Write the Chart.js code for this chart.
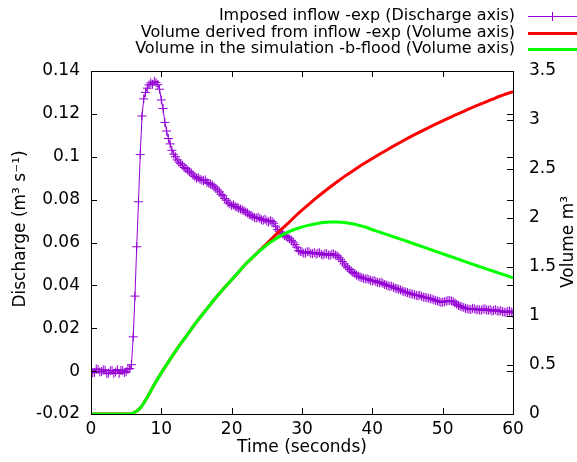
<!DOCTYPE html>
<html>
<head>
<meta charset="utf-8">
<script src="https://cdn.jsdelivr.net/npm/chart.js@4/dist/chart.umd.min.js"></script>
<style>
html,body{margin:0;padding:0;background:#fff}
</style>
</head>
<body>
<canvas id="graf" width="577" height="462"></canvas>
<script>
// inflow sampled every 0.25 s, volumes every 1 s
const dtQ = 0.25;
const discharge = [
0.0004,-0.0008,-0.0006,0.0010,0.0008,-0.0004,-0.0002,0.0006,
0.0005,-0.0012,-0.0009,0.0002,0.0003,-0.0010,-0.0004,0.0007,
-0.0011,0.0003,0.0002,-0.0007,-0.0003,0.0009,0.0012,0.0030,
0.0160,0.0350,0.0580,0.0790,0.1010,0.1190,0.1270,0.1300,
0.1320,0.1335,0.1345,0.1338,0.1352,0.1346,0.1336,0.1315,
0.1265,0.1225,0.1160,0.1120,0.1085,0.1060,0.1030,0.1012,
0.1000,0.0985,0.0975,0.0968,0.0960,0.0950,0.0945,0.0938,
0.0930,0.0924,0.0915,0.0908,0.0900,0.0902,0.0895,0.0891,
0.0888,0.0892,0.0880,0.0876,0.0872,0.0868,0.0860,0.0853,
0.0845,0.0836,0.0825,0.0818,0.0805,0.0797,0.0785,0.0780,
0.0772,0.0776,0.0768,0.0764,0.0760,0.0756,0.0752,0.0748,
0.0742,0.0738,0.0730,0.0727,0.0722,0.0716,0.0714,0.0718,
0.0712,0.0706,0.0704,0.0708,0.0700,0.0696,0.0702,0.0698,
0.0690,0.0676,0.0660,0.0652,0.0645,0.0640,0.0632,0.0628,
0.0622,0.0617,0.0610,0.0602,0.0590,0.0578,0.0562,0.0558,
0.0556,0.0550,0.0551,0.0557,0.0556,0.0549,0.0548,0.0553,
0.0546,0.0550,0.0552,0.0545,0.0541,0.0548,0.0547,0.0542,
0.0540,0.0547,0.0546,0.0541,0.0538,0.0531,0.0522,0.0511,
0.0500,0.0490,0.0482,0.0474,0.0466,0.0460,0.0455,0.0448,
0.0443,0.0440,0.0436,0.0433,0.0430,0.0431,0.0427,0.0423,
0.0420,0.0423,0.0418,0.0414,0.0412,0.0415,0.0409,0.0404,
0.0401,0.0398,0.0395,0.0397,0.0391,0.0387,0.0385,0.0382,
0.0379,0.0374,0.0371,0.0369,0.0366,0.0363,0.0360,0.0359,
0.0356,0.0353,0.0351,0.0354,0.0349,0.0345,0.0344,0.0342,
0.0340,0.0338,0.0336,0.0332,0.0330,0.0327,0.0325,0.0321,
0.0321,0.0324,0.0326,0.0329,0.0330,0.0327,0.0324,0.0318,
0.0312,0.0306,0.0302,0.0300,0.0296,0.0293,0.0291,0.0289,
0.0287,0.0293,0.0291,0.0286,0.0288,0.0285,0.0284,0.0289,
0.0290,0.0285,0.0284,0.0287,0.0280,0.0283,0.0286,0.0281,
0.0279,0.0282,0.0277,0.0275,0.0274,0.0279,0.0280,0.0276,
0.0271
];
const volTimes = [
0,1,2,3,4,5,6,7,8,9,10,11,12,13,14,15,16,17,18,19,20,
21,22,23,24,25,26,27,28,29,30,31,32,33,34,35,36,37,38,39,40,
41,42,43,44,45,46,47,48,49,50,51,52,53,54,55,56,57,58,59,60
];
const volDerived = [
0,0,0,0,0,0,0.01,0.06,0.17,0.30,0.42,0.53,0.64,0.74,0.84,0.94,1.03,1.12,1.21,1.29,1.37,
1.45,1.53,1.60,1.67,1.74,1.81,1.88,1.945,2.015,2.08,2.142,2.202,2.26,2.316,2.37,2.422,2.47,2.517,2.563,2.607,
2.65,2.692,2.733,2.773,2.812,2.85,2.887,2.923,2.958,2.992,3.025,3.057,3.089,3.12,3.151,3.181,3.21,3.24,3.265,3.29
];
const volSim = [
0,0,0,0,0,0,0.01,0.06,0.17,0.30,0.42,0.53,0.64,0.74,0.84,0.94,1.03,1.12,1.21,1.29,1.37,
1.45,1.53,1.60,1.665,1.725,1.775,1.82,1.855,1.885,1.908,1.927,1.942,1.953,1.959,1.96,1.955,1.943,1.927,1.908,1.88,
1.857,1.833,1.809,1.785,1.76,1.735,1.71,1.685,1.66,1.635,1.61,1.585,1.56,1.535,1.51,1.486,1.462,1.438,1.414,1.39
];
const xTicks = [0,10,20,30,40,50,60];
const yTicks = [-0.02,0,0.02,0.04,0.06,0.08,0.1,0.12,0.14];
const y2Ticks = [0,0.5,1,1.5,2,2.5,3,3.5];

const fonte = "DejaVu Sans";

const ptsQ = discharge.map((q,i)=>({x:i*dtQ,y:q}));
const ptsD = volTimes.map((t,i)=>({x:t,y:volDerived[i]}));
const ptsS = volTimes.map((t,i)=>({x:t,y:volSim[i]}));

// gnuplot style frame, inward tics, key and y titles
const moldura = {
  id:"moldura",
  afterDraw(chart){
    const ctx = chart.ctx;
    const a = chart.chartArea;
    const sx = chart.scales.x, sy = chart.scales.y, sy2 = chart.scales.y2;
    ctx.save();
    ctx.strokeStyle = "#000";
    ctx.lineWidth = 1;
    ctx.strokeRect(a.left+0.5, a.top+0.5, a.right-a.left, a.bottom-a.top);
    ctx.beginPath();
    const tl = 6;
    sx.ticks.forEach(t=>{
      const p = Math.round(sx.getPixelForValue(t.value))+0.5;
      ctx.moveTo(p,a.bottom); ctx.lineTo(p,a.bottom-tl);
      ctx.moveTo(p,a.top); ctx.lineTo(p,a.top+tl);
    });
    sy.ticks.forEach(t=>{
      const p = Math.round(sy.getPixelForValue(t.value))+0.5;
      ctx.moveTo(a.left,p); ctx.lineTo(a.left+tl,p);
      ctx.moveTo(a.right,p); ctx.lineTo(a.right-tl,p);
    });
    sy2.ticks.forEach(t=>{
      const p = Math.round(sy2.getPixelForValue(t.value))+0.5;
      ctx.moveTo(a.right,p); ctx.lineTo(a.right-tl,p);
    });
    ctx.stroke();

    // key
    ctx.font = "16px '"+fonte+"'";
    ctx.textAlign = "right";
    ctx.textBaseline = "middle";
    const rows = [16,33,49];
    chart.data.datasets.forEach((ds,i)=>{
      const y = rows[i];
      ctx.fillStyle = "#000";
      ctx.fillText(ds.label, 515, y);
      ctx.strokeStyle = ds.borderColor;
      ctx.lineWidth = ds.borderWidth;
      ctx.beginPath();
      ctx.moveTo(528,y+0.5); ctx.lineTo(577,y+0.5);
      if(ds.pointStyle==="cross"){
        ctx.moveTo(552.5,y-4); ctx.lineTo(552.5,y+5);
      }
      ctx.stroke();
    });

    // y titles
    ctx.fillStyle = "#000";
    ctx.font = "17px '"+fonte+"'";
    ctx.textAlign = "center";
    ctx.textBaseline = "middle";
    ctx.save();
    ctx.translate(21,229);
    ctx.rotate(-Math.PI/2);
    ctx.fillText("Discharge (m³ s⁻¹)",0,0);
    ctx.restore();
    ctx.save();
    ctx.translate(569,242);
    ctx.rotate(-Math.PI/2);
    ctx.fillText("Volume m³",0,0);
    ctx.restore();
    ctx.restore();
  }
};

new Chart(document.getElementById("graf"),{
  type:"line",
  data:{
    datasets:[
      {
        label:"Imposed inflow -exp (Discharge axis)",
        data:ptsQ,
        yAxisID:"y",
        borderColor:"#9400d3",
        backgroundColor:"#9400d3",
        borderWidth:1,
        pointStyle:"cross",
        pointRadius:4.5,
        pointBorderWidth:1,
        tension:0,
        order:3
      },
      {
        label:"Volume derived from inflow -exp (Volume axis)",
        data:ptsD,
        yAxisID:"y2",
        borderColor:"#ff0000",
        borderWidth:3,
        pointRadius:0,
        cubicInterpolationMode:"monotone",
        order:2
      },
      {
        label:"Volume in the simulation -b-flood (Volume axis)",
        data:ptsS,
        yAxisID:"y2",
        borderColor:"#00ff00",
        borderWidth:3,
        pointRadius:0,
        cubicInterpolationMode:"monotone",
        order:1
      }
    ]
  },
  options:{
    responsive:false,
    animation:false,
    devicePixelRatio:1,
    layout:{padding:{top:71,left:0,right:0,bottom:0}},
    plugins:{
      legend:{display:false},
      tooltip:{enabled:false}
    },
    scales:{
      x:{
        type:"linear",
        min:0,max:60,
        afterBuildTicks:s=>{s.ticks=xTicks.map(v=>({value:v}));},
        afterFit:s=>{s.height=48;},
        grid:{display:false,drawTicks:false},
        border:{display:false},
        ticks:{color:"#000",padding:5,maxRotation:0,font:{family:fonte,size:17},callback:v=>String(v)},
        title:{display:true,text:"Time (seconds)",color:"#000",padding:{top:0,bottom:6},font:{family:fonte,size:17,lineHeight:1}}
      },
      y:{
        type:"linear",
        position:"left",
        min:-0.02,max:0.14,
        afterBuildTicks:s=>{s.ticks=yTicks.map(v=>({value:v}));},
        afterFit:s=>{s.width=91;},
        grid:{display:false,drawTicks:false},
        border:{display:false},
        ticks:{color:"#000",padding:11,font:{family:fonte,size:17},callback:v=>String(v)}
      },
      y2:{
        type:"linear",
        position:"right",
        min:0,max:3.5,
        afterBuildTicks:s=>{s.ticks=y2Ticks.map(v=>({value:v}));},
        afterFit:s=>{s.width=64;},
        grid:{display:false,drawTicks:false},
        border:{display:false},
        ticks:{color:"#000",padding:16,font:{family:fonte,size:17},callback:v=>String(v)}
      }
    }
  },
  plugins:[moldura]
});
</script>
</body>
</html>
